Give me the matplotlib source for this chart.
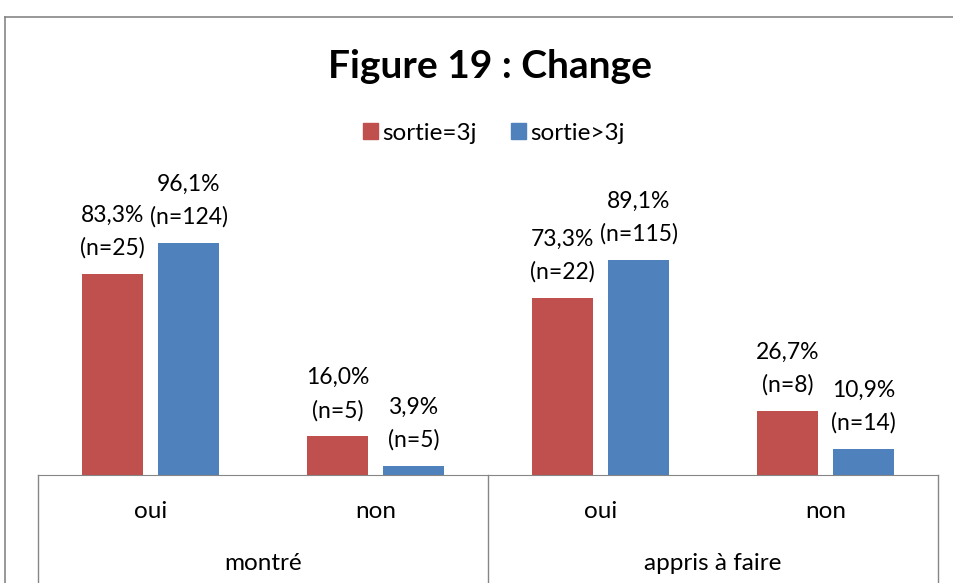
import matplotlib
matplotlib.use("Agg")
import matplotlib.pyplot as plt
from matplotlib.lines import Line2D
from matplotlib.patches import Patch
from matplotlib.transforms import blended_transform_factory
import numpy as np

plt.rcParams['font.family'] = ['Lato', 'DejaVu Sans']

title = "Figure 19 : Change"
series_names = ["sortie=3j", "sortie>3j"]
sub_labels = ["oui", "non", "oui", "non"]
group_labels = ["montré", "appris à faire"]
pct_3j = [83.3, 16.0, 73.3, 26.7]
pct_gt3j = [96.1, 3.9, 89.1, 10.9]
n_3j = [25, 5, 22, 8]
n_gt3j = [124, 5, 115, 14]

red = "#C0504D"
blue = "#4F81BD"
grey = "#868686"

W, H = 954, 583
fig = plt.figure(figsize=(W / 100, H / 100), dpi=100)

def fx(px):
    return px / W

def fy(py):
    return 1 - py / H

base_y = 475
ymax = 120
ppu = 2.414
top_y = base_y - ymax * ppu
ax = fig.add_axes([fx(38), fy(base_y), fx(938) - fx(38), (base_y - top_y) / H])
ax.set_xlim(-0.5, 3.5)
ax.set_ylim(0, ymax)

x = np.arange(len(sub_labels))
bw = 0.267
off = 0.169
b1 = ax.bar(x - off, pct_3j, bw, color=red, label=series_names[0])
b2 = ax.bar(x + off, pct_gt3j, bw, color=blue, label=series_names[1])

def fmt(v, n):
    return f"{v:.1f}".replace(".", ",") + "%\n(n=" + str(n) + ")"

for bars, vals, ns in ((b1, pct_3j, n_3j), (b2, pct_gt3j, n_gt3j)):
    for rect, v, n in zip(bars, vals, ns):
        ax.annotate(fmt(v, n), (rect.get_x() + rect.get_width() / 2, v),
                    xytext=(0, 11), textcoords="offset points",
                    ha="center", va="bottom", fontsize=16.5, linespacing=1.65,
                    annotation_clip=False)

for s in ["top", "right", "left"]:
    ax.spines[s].set_visible(False)
ax.spines["bottom"].set_color(grey)
ax.set_yticks([])
ax.set_xticks([])

tr = blended_transform_factory(ax.transData, fig.transFigure)
for xv in (-0.5, 1.5, 3.5):
    fig.add_artist(Line2D([xv, xv], [fy(base_y), 0], transform=tr, color=grey, lw=1))
for xi, lab in zip(x, sub_labels):
    fig.text(xi, fy(512), lab, transform=tr, ha="center", va="center", fontsize=17.5)
for gi, lab in enumerate(group_labels):
    fig.text(gi * 2 + 0.5, fy(563), lab, transform=tr, ha="center", va="center", fontsize=17.5)

# figure border (partially cropped)
fig.add_artist(Line2D([fx(5.5), fx(5.5)], [fy(17), 0], transform=fig.transFigure, color=grey, lw=1.2))
fig.add_artist(Line2D([fx(5.5), 1], [fy(17), fy(17)], transform=fig.transFigure, color=grey, lw=1.2))

fig.text(fx(490), fy(66), title, ha="center", va="center", fontsize=28, fontweight="bold")

handles = [Patch(color=red), Patch(color=blue)]
fig.legend(handles, series_names, loc="center", bbox_to_anchor=(fx(494), fy(133)),
           ncol=2, frameon=False, fontsize=17.5, handlelength=0.6, handleheight=0.6,
           handletextpad=0.2, columnspacing=1.4)

fig.savefig("out.png", dpi=100)
